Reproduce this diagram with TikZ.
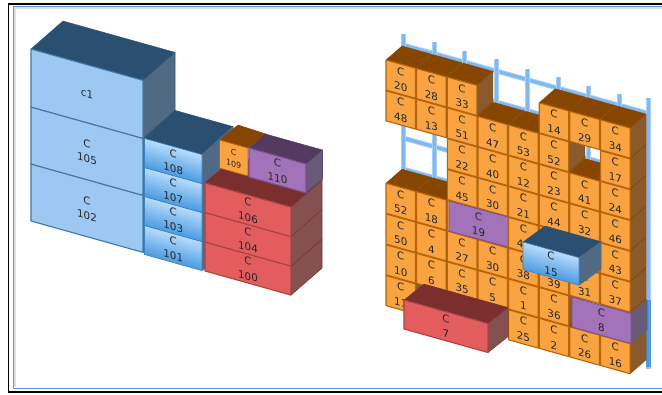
\documentclass[tikz,border=0pt]{standalone}
\usepackage{fontspec}
\setmainfont{DejaVu Sans}
\definecolor{lbF}{HTML}{9DC8F2}\definecolor{lbT}{HTML}{2A4F70}\definecolor{lbS}{HTML}{4F6A82}\definecolor{lbE}{HTML}{3F78A8}
\definecolor{gbF}{HTML}{7FBBF3}\definecolor{gbT}{HTML}{2A4F70}\definecolor{gbS}{HTML}{4F6A82}\definecolor{gbE}{HTML}{3F82C0}
\definecolor{gbA}{HTML}{B8DCFD}\definecolor{gbB}{HTML}{4A9BE2}
\definecolor{rdF}{HTML}{E35D5E}\definecolor{rdT}{HTML}{7A2E2E}\definecolor{rdS}{HTML}{855050}\definecolor{rdE}{HTML}{A84545}
\definecolor{orF}{HTML}{F9A441}\definecolor{orT}{HTML}{874600}\definecolor{orS}{HTML}{8A5A2C}\definecolor{orE}{HTML}{B8640A}
\definecolor{puF}{HTML}{A273B8}\definecolor{puT}{HTML}{543A60}\definecolor{puS}{HTML}{695A78}\definecolor{puE}{HTML}{7A5090}
\definecolor{railA}{HTML}{A9D0F6}\definecolor{railB}{HTML}{80B8EF}
\definecolor{frameblue}{HTML}{5E9BD2}
\newcounter{boxno}
\tikzset{lab/.style={align=center,font=\fontsize{10.3}{15.5}\selectfont,text=black!85,inner sep=0pt,transform shape},
 smalllab/.style={align=center,font=\fontsize{8}{12}\selectfont,text=black!85,inner sep=0pt,transform shape},
 facefill/.style={line width=1.1pt,line join=round}}
\newcommand{\slp}{0.28}
% x y w h dx dy palette label
\newcommand{\prism}[8]{%
 \filldraw[facefill,line width=.4pt,fill=#7T,draw=#7T] (#1,#2) -- (#1+#5,#2+#6) -- (#1+#3+#5,#2+#3*\slp+#6) -- (#1+#3,#2+#3*\slp) -- cycle;
 \filldraw[facefill,line width=.6pt,fill=#7S,draw=#7T!70!#7S] (#1+#3,#2+#3*\slp) -- (#1+#3+#5,#2+#3*\slp+#6) -- (#1+#3+#5,#2+#3*\slp+#6+#4) -- (#1+#3,#2+#3*\slp+#4) -- cycle;
 \filldraw[facefill,fill=#7F,draw=#7E] (#1,#2) -- (#1+#3,#2+#3*\slp) -- (#1+#3,#2+#3*\slp+#4) -- (#1,#2+#4) -- cycle;
 \boxlabel{#1}{#2}{#3}{#4}{#8}}
\newcommand{\boxlabel}[5]{%
 \stepcounter{boxno}%
 \begin{scope}[shift={(#1+#3/2,#2+#4/2+#3/2*\slp)},yslant=-\slp]
  \node[lab] (t\arabic{boxno}) at (0,0) {#5};
 \end{scope}}
% gradient variant
\newcommand{\gprism}[7]{%
 \filldraw[line width=.4pt,fill=gbT,draw=gbT] (#1,#2) -- (#1+#5,#2+#6) -- (#1+#3+#5,#2+#3*\slp+#6) -- (#1+#3,#2+#3*\slp) -- cycle;
 \filldraw[line width=.5pt,fill=gbS,draw=gbS] (#1+#3,#2+#3*\slp) -- (#1+#3+#5,#2+#3*\slp+#6) -- (#1+#3+#5,#2+#3*\slp+#6+#4) -- (#1+#3,#2+#3*\slp+#4) -- cycle;
 \begin{scope}[transform canvas={shift={(#1,#2)},yslant=-\slp}]
  \shade[top color=gbA,bottom color=gbB] (0,0) rectangle (#3,#4);
 \end{scope}
 \draw[line width=.6pt,gbE,line join=round] (#1,#2) -- (#1+#3,#2+#3*\slp) -- (#1+#3,#2+#3*\slp+#4) -- (#1,#2+#4) -- cycle;
 \boxlabel{#1}{#2}{#3}{#4}{#7}}
% grid cube: col row label
\newcommand{\gc}[3]{\prism{386+30.65*#1}{60+8.55*#1+30.8*#2}{29.5}{30}{16}{-14}{or}{#3}}
\begin{document}
\begin{tikzpicture}[x=1pt,y=-1pt]
\useasboundingbox (0,0) rectangle (662,394);
\fill[white] (0,0) rectangle (662,394);
% frame
\draw[black,line width=1.4pt] (663,4) -- (8.5,4) -- (8.5,392) -- (663,392);
\draw[black!12,line width=2pt] (663,8) -- (15,8) -- (15,387);
\draw[frameblue,line width=1pt] (663,6) -- (13.5,6) -- (13.5,388) -- (663,388);
% left group
\prism{31}{164}{112}{57}{32}{-28}{lb}{C\\102}
\prism{31}{107}{112}{57}{32}{-28}{lb}{C\\105}
\prism{31}{49}{112}{58}{32}{-28}{lb}{c1}
\gprism{144.5}{225.5}{57.5}{29}{31}{-28}{C\\101}
\gprism{144.5}{196.5}{57.5}{29}{31}{-28}{C\\103}
\gprism{144.5}{167.5}{57.5}{29}{31}{-28}{C\\107}
\gprism{144.5}{138.5}{57.5}{29}{31}{-28}{C\\108}
\prism{205}{242}{86}{29}{31}{-27}{rd}{C\\100}
\prism{205}{212.5}{86}{29.5}{31}{-27}{rd}{C\\104}
\prism{205}{183}{86}{29.5}{31}{-27}{rd}{C\\106}
% small orange and purple on top
\filldraw[line width=.4pt,fill=orT,draw=orT] (219.5,140) -- (238,125) -- (266,134) -- (248,148) -- cycle;
\filldraw[line width=.8pt,fill=orF,draw=orE,line join=round] (219.5,140) -- (248,148) -- (248,176) -- (219.5,168) -- cycle;
\begin{scope}[shift={(233.7,158)},yslant=-\slp]\node[smalllab] (t109) at (0,0) {C\\109};\end{scope}
\prism{249}{148}{57}{29}{16.5}{-14}{pu}{C\\110}
% scaffold
\foreach \k in {0,...,7}{\draw[railA,line width=5pt] (403,45+31*\k) -- (647,45+31*\k+68);
 \draw[railB,line width=3pt] (403,45+31*\k) -- (647,45+31*\k+68);}
\foreach \px/\py in {403/34,434/42,464/51,496/59,527/69,558/77,588/86,619/94,648/98}{
 \draw[railA,line width=5pt] (\px,\py) -- (\px,\py+270);
 \draw[railB,line width=3pt] (\px,\py) -- (\px,\py+270);}
\fill[black!25] (646,367) rectangle (651,369);
\fill[gbB] (645.5,300) rectangle (650.5,367);
% column 0
\gc{0}{7}{C\\11}\gc{0}{6}{C\\10}\gc{0}{5}{C\\50}\gc{0}{4}{C\\52}\gc{0}{1}{C\\48}\gc{0}{0}{C\\20}
% column 1
\gc{1}{6}{C\\6}\gc{1}{5}{C\\4}\gc{1}{4}{C\\18}\gc{1}{1}{C\\13}\gc{1}{0}{C\\28}
% column 2
\gc{2}{6}{C\\35}\gc{2}{5}{C\\27}\gc{2}{4}{}\gc{2}{3}{C\\45}\gc{2}{2}{C\\22}\gc{2}{1}{C\\51}\gc{2}{0}{C\\33}
% column 3
\gc{3}{6}{C\\5}\gc{3}{5}{C\\30}\gc{3}{4}{}\gc{3}{3}{C\\30}\gc{3}{2}{C\\40}\gc{3}{1}{C\\47}
% purple 19
\filldraw[line width=.8pt,fill=puF,draw=puE,line join=round] (449,201) -- (508,217) -- (508,247) -- (449,231) -- cycle;
\boxlabel{449}{201}{59}{30}{C\\19}
% column 4
\gc{4}{7}{C\\25}\gc{4}{6}{C\\1}\gc{4}{5}{C\\38}\gc{4}{4}{C\\4\phantom{0}}\gc{4}{3}{C\\21}\gc{4}{2}{C\\12}\gc{4}{1}{C\\53}
% column 5
\gc{5}{7}{C\\2}\gc{5}{6}{C\\36}\gc{5}{5}{C\\39}\gc{5}{4}{}\gc{5}{3}{C\\44}\gc{5}{2}{C\\23}\gc{5}{1}{C\\52}\gc{5}{0}{C\\14}
% column 6
\gc{6}{7}{C\\26}\gc{6}{5}{C\\31}\gc{6}{4}{\phantom{0}\\\phantom{0}7}\gc{6}{3}{C\\32}\gc{6}{2}{C\\41}\gc{6}{0}{C\\29}
% column 7
\gc{7}{7}{C\\16}\gc{7}{6}{}\gc{7}{5}{C\\37}\gc{7}{4}{C\\43}\gc{7}{3}{C\\46}\gc{7}{2}{C\\24}\gc{7}{1}{C\\17}\gc{7}{0}{C\\34}
% purple 8
\filldraw[line width=.5pt,fill=puS,draw=puS] (631,313.5) -- (647,300) -- (647,330) -- (631,343.5) -- cycle;
\filldraw[line width=.8pt,fill=puF,draw=puE,line join=round] (572,297) -- (631,313.5) -- (631,343.5) -- (572,327) -- cycle;
\boxlabel{572}{297}{59}{30}{C\\8}
% red 7
\prism{404}{300}{84}{29}{20}{-16}{rd}{C\\7}
% blue 15
\gprism{523}{242}{56}{27.5}{22}{-16}{C\\15}
\end{tikzpicture}
\end{document}
